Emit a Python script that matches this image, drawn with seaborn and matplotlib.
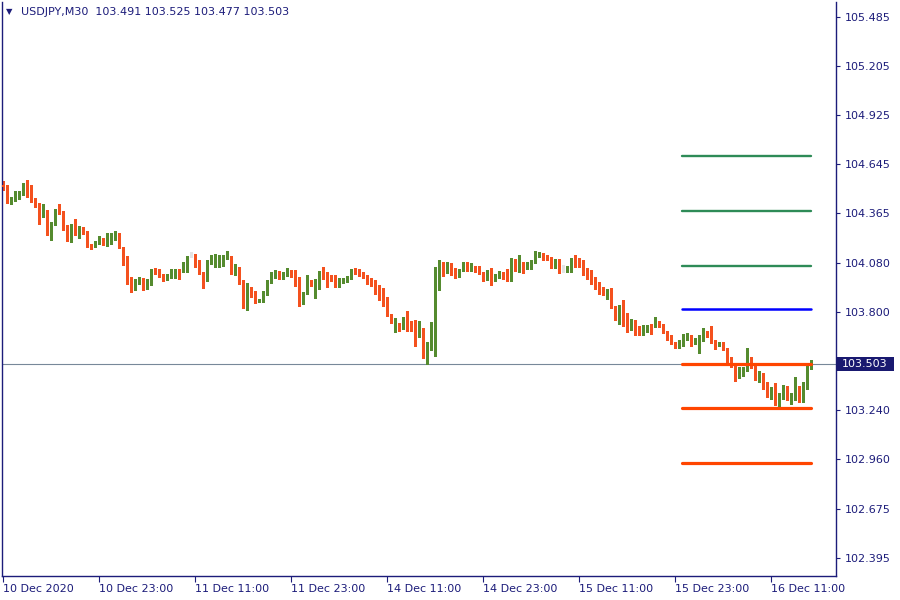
import numpy as np
import pandas as pd
import matplotlib
matplotlib.use("Agg")
import matplotlib.pyplot as plt
from matplotlib.patches import Rectangle
from matplotlib.transforms import blended_transform_factory
import seaborn as sns

symbol = "USDJPY,M30"

opens = [
    104.526, 104.514, 104.446, 104.446, 104.469, 104.474, 104.531, 104.474, 104.440, 104.423,
    104.354, 104.377, 104.246, 104.303, 104.383, 104.377, 104.297, 104.206, 104.297, 104.257,
    104.280, 104.257, 104.183, 104.171, 104.189, 104.223, 104.200, 104.200, 104.211, 104.251,
    104.171, 104.086, 104.000, 103.931, 103.977, 103.983, 103.943, 103.960, 104.046, 104.029,
    104.011, 103.983, 103.994, 104.023, 104.034, 104.029, 104.051, 104.120, 104.109, 104.097,
    104.023, 103.989, 104.074, 104.080, 104.080, 104.103, 104.109, 104.114, 104.034, 104.051,
    103.983, 103.829, 103.937, 103.897, 103.857, 103.863, 103.903, 103.971, 104.000, 104.029,
    103.994, 104.011, 104.034, 104.011, 103.943, 103.863, 103.937, 103.977, 103.949, 103.960,
    104.023, 104.006, 104.000, 103.994, 103.966, 103.971, 103.977, 103.989, 104.046, 104.040,
    104.023, 104.006, 103.983, 103.960, 103.914, 103.897, 103.857, 103.789, 103.737, 103.737,
    103.714, 103.766, 103.749, 103.743, 103.703, 103.709, 103.549, 103.623, 103.691, 103.983,
    104.080, 104.029, 104.063, 104.029, 104.000, 104.034, 104.074, 104.040, 104.057, 104.046,
    104.023, 103.989, 104.011, 103.994, 104.000, 104.029, 104.006, 103.994, 104.097, 104.063,
    104.080, 104.051, 104.074, 104.086, 104.126, 104.137, 104.120, 104.109, 104.051, 104.103,
    104.051, 104.040, 104.057, 104.091, 104.080, 104.074, 104.034, 104.034, 103.971, 103.943,
    103.926, 103.897, 103.920, 103.834, 103.760, 103.817, 103.777, 103.714, 103.731, 103.709,
    103.686, 103.714, 103.726, 103.714, 103.743, 103.720, 103.686, 103.646, 103.623, 103.600,
    103.640, 103.646, 103.669, 103.629, 103.634, 103.634, 103.686, 103.674, 103.640, 103.611,
    103.623, 103.594, 103.537, 103.497, 103.423, 103.463, 103.480, 103.543, 103.491, 103.423,
    103.440, 103.400, 103.337, 103.343, 103.280, 103.309, 103.377, 103.297, 103.303, 103.377,
    103.286, 103.360, 103.491]

highs = [
    104.549, 104.526, 104.457, 104.491, 104.491, 104.537, 104.554, 104.526, 104.451, 104.423,
    104.417, 104.383, 104.314, 104.389, 104.417, 104.377, 104.297, 104.303, 104.331, 104.291,
    104.286, 104.263, 104.189, 104.206, 104.234, 104.223, 104.251, 104.251, 104.263, 104.251,
    104.171, 104.120, 104.000, 103.989, 104.000, 103.994, 103.989, 104.046, 104.051, 104.046,
    104.017, 104.017, 104.046, 104.046, 104.046, 104.086, 104.120, 104.143, 104.131, 104.097,
    104.029, 104.097, 104.126, 104.131, 104.126, 104.126, 104.149, 104.120, 104.074, 104.057,
    103.983, 103.966, 103.943, 103.920, 103.874, 103.920, 103.983, 104.029, 104.040, 104.034,
    104.029, 104.051, 104.040, 104.040, 104.000, 103.914, 104.011, 103.983, 103.989, 104.034,
    104.057, 104.029, 104.011, 104.011, 103.994, 103.994, 104.006, 104.046, 104.051, 104.046,
    104.029, 104.011, 103.994, 103.983, 103.954, 103.937, 103.886, 103.789, 103.766, 103.737,
    103.771, 103.806, 103.749, 103.754, 103.749, 103.709, 103.629, 103.743, 104.057, 104.097,
    104.086, 104.086, 104.080, 104.051, 104.046, 104.086, 104.086, 104.080, 104.063, 104.063,
    104.029, 104.040, 104.051, 104.017, 104.034, 104.029, 104.046, 104.109, 104.103, 104.126,
    104.086, 104.086, 104.097, 104.149, 104.143, 104.137, 104.126, 104.114, 104.103, 104.103,
    104.069, 104.063, 104.109, 104.126, 104.109, 104.097, 104.051, 104.040, 104.000, 103.971,
    103.943, 103.931, 103.937, 103.834, 103.840, 103.869, 103.794, 103.760, 103.754, 103.720,
    103.726, 103.726, 103.731, 103.771, 103.749, 103.731, 103.691, 103.669, 103.629, 103.640,
    103.674, 103.680, 103.669, 103.651, 103.669, 103.709, 103.691, 103.720, 103.640, 103.629,
    103.629, 103.594, 103.543, 103.497, 103.486, 103.486, 103.594, 103.543, 103.491, 103.463,
    103.451, 103.400, 103.371, 103.394, 103.337, 103.383, 103.377, 103.337, 103.429, 103.377,
    103.400, 103.497, 103.525]

lows = [
    104.497, 104.423, 104.417, 104.434, 104.446, 104.469, 104.457, 104.429, 104.400, 104.303,
    104.343, 104.240, 104.211, 104.297, 104.360, 104.269, 104.206, 104.200, 104.240, 104.223,
    104.246, 104.171, 104.160, 104.171, 104.189, 104.183, 104.177, 104.189, 104.211, 104.166,
    104.069, 103.960, 103.914, 103.926, 103.960, 103.926, 103.931, 103.954, 104.017, 104.000,
    103.977, 103.983, 103.994, 103.994, 103.989, 104.029, 104.029, 104.114, 104.057, 104.017,
    103.937, 103.977, 104.074, 104.057, 104.057, 104.063, 104.103, 104.017, 104.011, 103.960,
    103.823, 103.811, 103.886, 103.851, 103.857, 103.857, 103.897, 103.966, 103.994, 103.989,
    103.989, 104.006, 104.000, 103.949, 103.834, 103.846, 103.903, 103.949, 103.880, 103.931,
    103.989, 103.943, 103.977, 103.943, 103.943, 103.966, 103.971, 103.989, 104.017, 104.006,
    103.994, 103.960, 103.949, 103.903, 103.869, 103.834, 103.777, 103.737, 103.686, 103.691,
    103.703, 103.691, 103.691, 103.606, 103.657, 103.537, 103.503, 103.583, 103.549, 103.926,
    104.006, 104.023, 104.011, 103.994, 104.000, 104.034, 104.034, 104.034, 104.029, 104.017,
    103.977, 103.983, 103.954, 103.977, 103.994, 103.989, 103.977, 103.977, 104.034, 104.029,
    104.023, 104.046, 104.046, 104.080, 104.114, 104.097, 104.097, 104.051, 104.051, 104.023,
    104.029, 104.029, 104.029, 104.057, 104.057, 104.011, 103.989, 103.960, 103.931, 103.903,
    103.897, 103.874, 103.823, 103.754, 103.731, 103.720, 103.686, 103.697, 103.669, 103.669,
    103.669, 103.686, 103.674, 103.714, 103.714, 103.680, 103.640, 103.617, 103.594, 103.594,
    103.606, 103.640, 103.606, 103.617, 103.566, 103.634, 103.657, 103.623, 103.589, 103.606,
    103.583, 103.514, 103.486, 103.406, 103.423, 103.434, 103.463, 103.480, 103.411, 103.400,
    103.360, 103.314, 103.303, 103.269, 103.257, 103.303, 103.297, 103.274, 103.297, 103.286,
    103.286, 103.360, 103.477]

closes = [
    104.514, 104.446, 104.451, 104.474, 104.480, 104.531, 104.469, 104.434, 104.417, 104.360,
    104.377, 104.246, 104.309, 104.383, 104.371, 104.297, 104.206, 104.303, 104.263, 104.280,
    104.251, 104.177, 104.171, 104.194, 104.223, 104.206, 104.211, 104.223, 104.251, 104.171,
    104.080, 103.989, 103.931, 103.983, 103.983, 103.943, 103.966, 104.040, 104.023, 104.006,
    103.983, 104.000, 104.023, 104.034, 104.023, 104.057, 104.109, 104.120, 104.097, 104.023,
    103.989, 104.080, 104.086, 104.086, 104.109, 104.114, 104.120, 104.034, 104.051, 103.977,
    103.834, 103.937, 103.897, 103.857, 103.874, 103.909, 103.977, 104.006, 104.029, 103.994,
    104.017, 104.034, 104.006, 103.977, 103.869, 103.914, 103.977, 103.954, 103.966, 104.023,
    104.000, 103.994, 103.989, 103.966, 103.977, 103.983, 104.000, 104.046, 104.034, 104.011,
    104.000, 103.971, 103.954, 103.909, 103.891, 103.851, 103.783, 103.743, 103.754, 103.714,
    103.766, 103.743, 103.737, 103.703, 103.709, 103.549, 103.629, 103.703, 103.983, 104.080,
    104.029, 104.063, 104.023, 104.000, 104.046, 104.074, 104.040, 104.057, 104.040, 104.023,
    103.983, 104.006, 103.994, 104.006, 104.029, 103.994, 103.994, 104.097, 104.057, 104.080,
    104.051, 104.080, 104.086, 104.131, 104.137, 104.114, 104.103, 104.051, 104.103, 104.040,
    104.051, 104.063, 104.097, 104.080, 104.069, 104.034, 104.029, 103.966, 103.937, 103.920,
    103.903, 103.920, 103.829, 103.760, 103.817, 103.771, 103.714, 103.731, 103.697, 103.686,
    103.720, 103.726, 103.714, 103.743, 103.714, 103.680, 103.640, 103.617, 103.600, 103.617,
    103.657, 103.669, 103.623, 103.640, 103.646, 103.686, 103.663, 103.634, 103.617, 103.623,
    103.589, 103.531, 103.491, 103.423, 103.469, 103.486, 103.543, 103.486, 103.423, 103.446,
    103.400, 103.320, 103.354, 103.280, 103.314, 103.366, 103.297, 103.309, 103.377, 103.286,
    103.371, 103.497, 103.503]

x_tick_bars = [0, 24, 48, 72, 96, 120, 144, 168, 192]
x_tick_labels = ["10 Dec 2020", "10 Dec 23:00", "11 Dec 11:00", "11 Dec 23:00",
                 "14 Dec 11:00", "14 Dec 23:00", "15 Dec 11:00", "15 Dec 23:00",
                 "16 Dec 11:00"]
y_tick_values = [105.485, 105.205, 104.925, 104.645, 104.365, 104.080,
                 103.800, 103.240, 102.960, 102.675, 102.395]

green_levels = [104.691, 104.377, 104.062]
blue_levels = [103.816]
red_levels = [103.502, 103.250, 102.936]
level_span = [169.75, 202.0]

# ---------------------------------------------------------------------------
sns.set_theme(style="white")
plt.rcParams["font.family"] = ["DejaVu Sans"]

navy = "#1c1c7a"
bull = "#558b2f"
bear = "#f4511e"
doji = "#e4e4e4"

fig = plt.figure(figsize=(9, 6), dpi=100)
fig.patch.set_facecolor("white")
ax = fig.add_axes([2 / 900, 24 / 600, 834 / 900, 574 / 600])
ax.set_facecolor("white")

df = pd.DataFrame({"bar": np.arange(len(opens)), "open": opens, "high": highs,
                   "low": lows, "close": closes})
col = np.where(df["close"] > df["open"], bull,
               np.where(df["close"] < df["open"], bear, doji))

current_price = closes[-1]
ax.axhline(current_price, color="#778899", lw=0.8, zorder=1)

ax.vlines(df["bar"], df["low"], df["high"], colors=col, linewidth=0.75,
          zorder=2, antialiased=False)
body_lo = np.minimum(df["open"], df["close"])
body_h = np.maximum(np.abs(df["close"] - df["open"]), 0.005)
ax.bar(df["bar"], body_h, bottom=body_lo, width=0.6, color=col, linewidth=0,
       zorder=3, antialiased=False)

# level lines through seaborn
rows = []
for kind, levels in (("green", green_levels), ("blue", blue_levels), ("red", red_levels)):
    for j, lv in enumerate(levels):
        for b in level_span:
            rows.append({"kind": kind, "line": f"{kind}{j}", "bar": b, "price": lv})
lv_df = pd.DataFrame(rows)
lv_colors = {"green": "#2e8b57", "blue": "#0000ff", "red": "#ff4500"}
lv_widths = {"green": 1.7, "blue": 1.8, "red": 2.3}
for kind in ("green", "blue", "red"):
    sub = lv_df[lv_df["kind"] == kind]
    sns.lineplot(data=sub, x="bar", y="price", units="line", estimator=None,
                 color=lv_colors[kind], linewidth=lv_widths[kind], ax=ax,
                 legend=False, zorder=4, solid_capstyle="round")

ax.set_xlim(-0.25, 208.25)
ax.set_ylim(102.2914, 105.5714)
ax.set_xlabel("")
ax.set_ylabel("")

# axes decoration
for s in ("left", "right", "bottom"):
    ax.spines[s].set_visible(True)
    ax.spines[s].set_color(navy)
    ax.spines[s].set_linewidth(1.0)
ax.spines["top"].set_visible(False)

ax.yaxis.tick_right()
ax.set_yticks(y_tick_values)
ax.set_yticklabels([f"{v:.3f}" for v in y_tick_values])
ax.tick_params(axis="y", which="major", direction="out", length=3, width=0.8,
               color=navy, labelcolor=navy, labelsize=8, pad=3,
               right=True, left=False, labelright=True, labelleft=False)
ax.set_xticks(x_tick_bars)
ax.set_xticklabels(x_tick_labels, ha="left")
ax.tick_params(axis="x", which="major", direction="out", length=4, width=0.8,
               color=navy, labelcolor=navy, labelsize=8, pad=2, bottom=True)
ax.grid(False)

# current price label box
tr = blended_transform_factory(ax.transAxes, ax.transData)
ax.add_patch(Rectangle((1.0, current_price - 0.038), 58 / 834, 0.076,
                       transform=tr, facecolor="#191970", edgecolor="none",
                       clip_on=False, zorder=5))
ax.text(1.0 + 6 / 834, current_price, f"{current_price:.3f}", transform=tr,
        ha="left", va="center", color="white", fontsize=8, zorder=6, clip_on=False)

# header
fig.text(6 / 900, 1 - 12 / 600, "\u25BC", fontsize=6, color=navy, va="center", ha="left")
fig.text(21 / 900, 1 - 12 / 600,
         f"{symbol}  {opens[-1]:.3f} {highs[-1]:.3f} {lows[-1]:.3f} {closes[-1]:.3f}",
         fontsize=8, color=navy, va="center", ha="left")

fig.savefig("out.png", dpi=100, facecolor="white")
